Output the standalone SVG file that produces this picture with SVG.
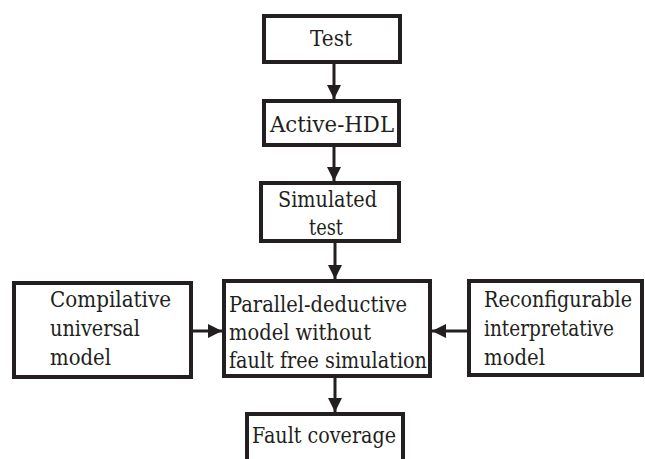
<svg xmlns="http://www.w3.org/2000/svg" width="645" height="459" viewBox="0 0 645 459">
<defs>
<style>
.box{fill:#fff;stroke:#231f20;stroke-width:4}
text{font-family:"DejaVu Serif","Liberation Serif",serif;font-size:23px;fill:#231f20}
.ln{stroke:#231f20;stroke-width:3;fill:none}
</style>
<marker id="ah" markerWidth="14" markerHeight="14" refX="14" refY="7" orient="auto" markerUnits="userSpaceOnUse" viewBox="0 0 14 14">
<path d="M0,0 L14,7 L0,14 z" fill="#231f20"/>
</marker>
</defs>
<rect width="645" height="459" fill="#fff"/>
<g id="connectors">
<line class="ln" x1="334" y1="64" x2="334" y2="99" marker-end="url(#ah)"/>
<line class="ln" x1="334" y1="146" x2="334" y2="181" marker-end="url(#ah)"/>
<line class="ln" x1="335" y1="243" x2="335" y2="279" marker-end="url(#ah)"/>
<line class="ln" x1="193" y1="331" x2="222" y2="331" marker-end="url(#ah)"/>
<line class="ln" x1="467" y1="331" x2="432" y2="331" marker-end="url(#ah)"/>
<line class="ln" x1="335" y1="378" x2="335" y2="412" marker-end="url(#ah)"/>
</g>
<g id="test">
<rect class="box" x="264" y="16" width="136" height="46"/>
<text x="310" y="46" textLength="42" lengthAdjust="spacingAndGlyphs">Test</text>
</g>
<g id="active-hdl">
<rect class="box" x="264" y="101" width="135" height="44"/>
<text x="270" y="132" textLength="124" lengthAdjust="spacingAndGlyphs">Active-HDL</text>
</g>
<g id="simulated-test">
<rect class="box" x="261" y="183" width="138" height="58"/>
<text x="278" y="207" textLength="99" lengthAdjust="spacingAndGlyphs">Simulated</text>
<text x="309" y="235" textLength="34" lengthAdjust="spacingAndGlyphs">test</text>
</g>
<g id="compilative">
<rect class="box" x="14" y="283" width="177" height="94"/>
<text x="50" y="307" textLength="121" lengthAdjust="spacingAndGlyphs">Compilative</text>
<text x="50" y="336" textLength="90" lengthAdjust="spacingAndGlyphs">universal</text>
<text x="50" y="365" textLength="61" lengthAdjust="spacingAndGlyphs">model</text>
</g>
<g id="parallel-deductive">
<rect class="box" x="224" y="281" width="206" height="95"/>
<text x="229" y="312" textLength="178" lengthAdjust="spacingAndGlyphs">Parallel-deductive</text>
<text x="229" y="340" textLength="142" lengthAdjust="spacingAndGlyphs">model without</text>
<text x="229" y="368" textLength="198" lengthAdjust="spacingAndGlyphs">fault free simulation</text>
</g>
<g id="reconfigurable">
<rect class="box" x="469" y="281" width="173" height="94"/>
<text x="484" y="307" textLength="148" lengthAdjust="spacingAndGlyphs">Reconfigurable</text>
<text x="484" y="336" textLength="130" lengthAdjust="spacingAndGlyphs">interpretative</text>
<text x="484" y="365" textLength="61" lengthAdjust="spacingAndGlyphs">model</text>
</g>
<g id="fault-coverage">
<rect class="box" x="247" y="414" width="156" height="60"/>
<text x="252" y="443" textLength="144" lengthAdjust="spacingAndGlyphs">Fault coverage</text>
</g>
</svg>
